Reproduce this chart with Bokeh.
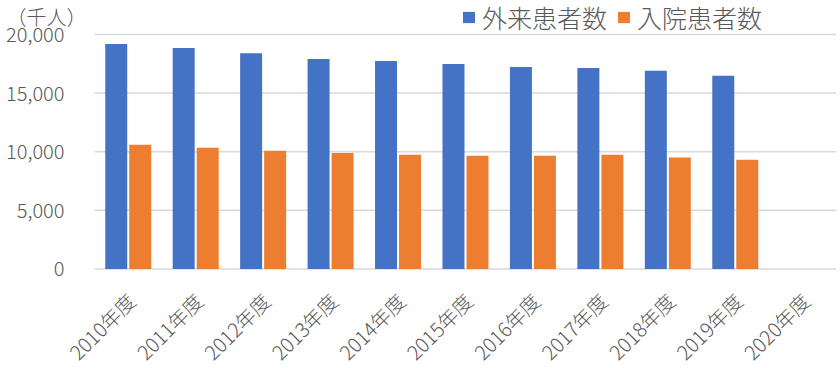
import math
from bokeh.plotting import figure
from bokeh.models import ColumnDataSource, Range1d, Legend, LegendItem, Label
from bokeh.transform import dodge
from bokeh.embed import file_html
from bokeh.resources import INLINE

years = ["2010年度", "2011年度", "2012年度", "2013年度", "2014年度", "2015年度",
         "2016年度", "2017年度", "2018年度", "2019年度", "2020年度"]
outpatients = [19200, 18850, 18400, 17900, 17750, 17480, 17230, 17150, 16900, 16480, float("nan")]
inpatients = [10600, 10330, 10080, 9900, 9750, 9660, 9660, 9750, 9500, 9320, float("nan")]
y_ticks = [0, 5000, 10000, 15000, 20000]
y_tick_labels = ["0", "5,000", "10,000", "15,000", "20,000"]
series_names = ["外来患者数", "入院患者数"]
unit_label = "（千人）"

FONT = "Noto Sans CJK JP Light, Noto Sans CJK JP"
GRAY = "#595959"
GRID = "#d9d9d9"
BLUE = "#4472C4"
ORANGE = "#ED7D31"

n = len(years)
centers = [i + 0.5 for i in range(n)]
src = ColumnDataSource(dict(year=years, xc=centers, out=outpatients, inp=inpatients))
ysrc = ColumnDataSource(dict(v=y_ticks, t=y_tick_labels,
                             x0=[0] * len(y_ticks), x1=[n] * len(y_ticks)))

# frame fills the whole canvas; ranges chosen so the category area sits like the original
p = figure(width=840, height=368, output_backend="svg", toolbar_location=None,
           x_range=Range1d(-1.394, n + 0.06), y_range=Range1d(-8490, 22900),
           min_border=0)
p.outline_line_color = None
p.background_fill_color = "white"
p.border_fill_color = "white"
p.axis.visible = False
p.grid.visible = False

# horizontal gridlines over the category area
p.segment(x0="x0", x1="x1", y0="v", y1="v", source=ysrc,
          line_color=GRID, line_width=1.5)

bw = 0.326
off = 0.178
r1 = p.vbar(x=dodge("xc", -off), top="out", width=bw, source=src,
            color=BLUE, line_color=None)
r2 = p.vbar(x=dodge("xc", off), top="inp", width=bw, source=src,
            color=ORANGE, line_color=None)

# y tick labels
p.text(x="x0", y="v", text="t", source=ysrc, x_offset=-30,
       text_align="right", text_baseline="middle",
       text_font={"value": FONT}, text_font_size="20px", text_color=GRAY)

# x tick labels, rotated 45 degrees
p.text(x="xc", y=0, text="year", source=src, x_offset=3, y_offset=28, angle=math.pi / 4,
       text_align="right", text_baseline="middle",
       text_font={"value": FONT}, text_font_size="20px", text_color=GRAY)

legend = Legend(items=[LegendItem(label=series_names[0], renderers=[r1]),
                       LegendItem(label=series_names[1], renderers=[r2])],
                orientation="horizontal", location=(461, 333),
                background_fill_alpha=0, border_line_alpha=0,
                padding=0, margin=0, spacing=9,
                glyph_width=15, glyph_height=14, label_standoff=6,
                label_text_font=FONT, label_text_font_size="25px",
                label_text_color=GRAY)
p.add_layout(legend, "center")

p.add_layout(Label(x=6, y=352, x_units="screen", y_units="screen", text=unit_label,
                   text_font=FONT, text_font_size="20px", text_color=GRAY,
                   text_baseline="middle", text_align="left"))

open("out.html", "w").write(file_html(p, INLINE))
